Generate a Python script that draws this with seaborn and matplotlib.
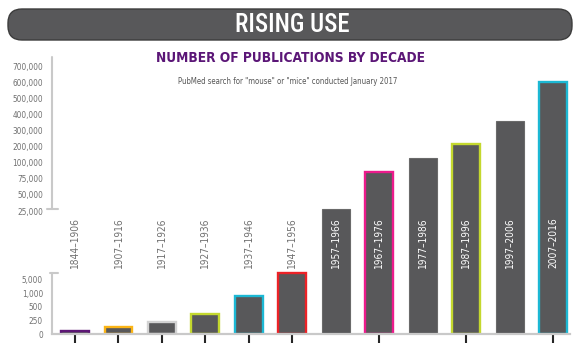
import os
import re
import numpy as np
import pandas as pd
import matplotlib
matplotlib.use("Agg")
import matplotlib.pyplot as plt
import seaborn as sns
from matplotlib.patches import FancyBboxPatch
import matplotlib.transforms as mtransforms
from matplotlib import font_manager as fm

# ---------------- data ----------------
decades = ["1844–1906", "1907–1916", "1917–1926", "1927–1936", "1937–1946", "1947–1956",
           "1957–1966", "1967–1976", "1977–1986", "1987–1996", "1997–2006", "2007–2016"]
publications = [60, 130, 220, 370, 900, 7000,
                28000, 86000, 131000, 219000, 356000, 600000]
edge_colors = ["#5c1674", "#fbb415", "#d2d2d2", "#c4d82e", "#1cb8d4", "#ec2227",
               None, "#ec1b8c", None, "#c4d82e", None, "#1cb8d4"]
lower_ticks = [0, 250, 500, 1000, 5000]
upper_ticks = [25000, 50000, 75000, 100000, 200000, 300000, 400000, 500000, 600000, 700000]

title_banner = "RISING USE"
title = "NUMBER OF PUBLICATIONS BY DECADE"
subtitle = 'PubMed search for "mouse" or "mice" conducted January 2017'

# ---------------- fonts: look for a narrow / condensed sans ----------------
WEIGHTS = {"ultralight": 200, "light": 300, "normal": 400, "regular": 400, "book": 400,
           "medium": 500, "roman": 400, "semibold": 600, "demibold": 600, "demi": 600,
           "bold": 700, "heavy": 800, "extra bold": 800, "black": 900}


def _weight(f):
    if isinstance(f.weight, (int, float)):
        return int(f.weight)
    return WEIGHTS.get(str(f.weight).lower(), 400)


def _cond(f):
    b = os.path.basename(f.fname).lower()
    if "extracondensed" in b or "extra-condensed" in b:
        return 200
    if "semicondensed" in b or "semi-condensed" in b:
        return 400
    if "condensed" in b or "narrow" in b:
        return 300
    return 500


PATTERN = re.compile(r"^(notosans-|liberationsansnarrow|robotocondensed|roboto_condensed|"
                     r"roboto-.*condensed|opensans.*condensed|opensanscondensed|"
                     r"dejavusanscondensed|dejavusans-condensed)")


def pick(target_weight, target_cond):
    best, best_score = None, None
    for f in fm.fontManager.ttflist:
        b = os.path.basename(f.fname).lower()
        if not PATTERN.match(b) or f.style != "normal" or "mono" in b or "italic" in b:
            continue
        c = _cond(f)
        if c >= 500:
            continue
        score = abs(_weight(f) - target_weight) + 2 * abs(c - target_cond)
        if best_score is None or score < best_score:
            best, best_score = f, score
    return best


def props(target_weight, target_cond, size):
    f = pick(target_weight, target_cond)
    if f is None:
        return fm.FontProperties(family="DejaVu Sans",
                                 weight="bold" if target_weight >= 600 else "normal",
                                 size=size)
    return fm.FontProperties(fname=f.fname, size=size)


# ---------------- style ----------------
sns.set_theme(style="white")
plt.rcParams["font.family"] = ["DejaVu Sans"]

BAR_GRAY = "#58585a"
TEXT_GRAY = "#707070"
AXIS_GRAY = "#c9c9c9"
PURPLE = "#5b1677"

fp_tick = props(400, 200, 7)
fp_bar = props(400, 200, 8.5)
fp_banner = props(500, 200, 17)
fp_title = props(700, 200, 12)
fp_sub = props(400, 200, 6.5)

# broken, piecewise axis: equal pixel steps inside each segment
LOWER_STEP, UPPER_START, UPPER_STEP = 13.5, 123.0, 16.1
knot_v = list(lower_ticks) + list(upper_ticks)
knot_h = [LOWER_STEP * i for i in range(len(lower_ticks))] + \
         [UPPER_START + UPPER_STEP * i for i in range(len(upper_ticks))]
knot_v = [-1000.0] + knot_v + [knot_v[-1] + 1e7]
knot_h = [-LOWER_STEP * 4] + knot_h + [knot_h[-1] + UPPER_STEP * 100]
knot_v = np.array(knot_v, float)
knot_h = np.array(knot_h, float)


def fwd(v):
    return np.interp(v, knot_v, knot_h)


def inv(h):
    return np.interp(h, knot_h, knot_v)


W, H = 580, 343
fig = plt.figure(figsize=(W / 100, H / 100), dpi=100)
renderer = fig.canvas.get_renderer()


def fit(fp, sample, target_px, rotation=0):
    """Scale a font size so that `sample` spans target_px pixels."""
    t = fig.text(0, 0, sample, fontproperties=fp, rotation=rotation)
    bb = t.get_window_extent(renderer)
    span = bb.height if rotation else bb.width
    t.remove()
    fp = fp.copy()
    fp.set_size(fp.get_size() * target_px / span)
    return fp


fp_tick = fit(fp_tick, "700,000", 31)
fp_bar = fit(fp_bar, decades[0], 51, rotation=90)
fp_banner = fit(fp_banner, title_banner, 114)
fp_title = fit(fp_title, title, 268)
fp_sub = fit(fp_sub, subtitle, 220)

ax_left, ax_right, ax_bottom, ax_top = 52, 570, 334, 57
ax = fig.add_axes([ax_left / W, (H - ax_bottom) / H,
                   (ax_right - ax_left) / W, (ax_bottom - ax_top) / H])
ax.patch.set_visible(False)

df = pd.DataFrame({"decade": decades, "pubs": publications})
sns.barplot(data=df, x="decade", y="pubs", color=BAR_GRAY, saturation=1,
            width=0.64, ax=ax, zorder=3)
ax.set_yscale("function", functions=(fwd, inv))

top_h = ax_bottom - ax_top
ax.set_ylim(0, inv(top_h))
ax.set_xlim(-0.53, 11.39)

for patch, ec in zip(ax.patches, edge_colors):
    if ec is None:
        patch.set_edgecolor("#6a6a6a")
        patch.set_linewidth(0.8)
    else:
        patch.set_edgecolor(ec)
        patch.set_linewidth(1.7)

for s in ["top", "right", "left"]:
    ax.spines[s].set_visible(False)
ax.spines["bottom"].set_color(AXIS_GRAY)
ax.spines["bottom"].set_linewidth(1.6)
ax.spines["bottom"].set_zorder(4)

# y ticks
yt = list(lower_ticks) + list(upper_ticks)
ax.set_yticks(yt)
ax.set_yticklabels([f"{v:,}" for v in yt])
ax.tick_params(axis="y", length=0, pad=6.5, labelcolor=TEXT_GRAY)
for lab in ax.get_yticklabels():
    lab.set_fontproperties(fp_tick)
ax.set_ylabel("")
ax.set_xlabel("")

# x ticks: coloured stubs below bars
ax.set_xticks(range(len(decades)))
ax.set_xticklabels([""] * len(decades))
ax.tick_params(axis="x", length=7, width=1.5, direction="out", bottom=True)
for tick, ec in zip(ax.xaxis.get_major_ticks(), edge_colors):
    if ec is None:
        tick.tick1line.set_visible(False)
    else:
        tick.tick1line.set_color(ec)

# broken left axis drawn as two pieces
trans_y = mtransforms.blended_transform_factory(ax.transAxes, ax.transData)
px = 1.0 / (ax_right - ax_left)
lower_top = inv(61)
upper_bot = inv(125)
ax.plot([0, 0], [0, lower_top], transform=trans_y, color=AXIS_GRAY, lw=1.5,
        clip_on=False, zorder=2)
ax.plot([-2 * px, 6 * px], [lower_top, lower_top], transform=trans_y,
        color=AXIS_GRAY, lw=1.5, clip_on=False, zorder=2)
ax.plot([0, 0], [upper_bot, inv(top_h)], transform=trans_y, color=AXIS_GRAY,
        lw=1.5, clip_on=False, zorder=2)
ax.plot([-5 * px, 6 * px], [upper_bot, upper_bot], transform=trans_y,
        color=AXIS_GRAY, lw=1.5, clip_on=False, zorder=2)

# decade labels
trans_x = mtransforms.blended_transform_factory(ax.transData, ax.transAxes)
label_y = 91 / top_h
for i, (d, v) in enumerate(zip(decades, publications)):
    inside = v > 20000
    ax.text(i, label_y, d, transform=trans_x, rotation=90, ha="center",
            va="center", fontproperties=fp_bar,
            color="white" if inside else TEXT_GRAY, zorder=5)

# ---------------- header ----------------
hdr = fig.add_axes([0, 0, 1, 1], zorder=-1)
hdr.set_xlim(0, W)
hdr.set_ylim(H, 0)
hdr.axis("off")
hdr.add_patch(FancyBboxPatch((8, 9), 564, 31,
                             boxstyle="round,pad=0,rounding_size=14",
                             facecolor=BAR_GRAY, edgecolor="#3c3c3c", lw=1.0))
hdr.text(292, 25, title_banner, ha="center", va="center", color="white",
         fontproperties=fp_banner)
hdr.text(290, 58, title, ha="center", va="center", color=PURPLE,
         fontproperties=fp_title)
hdr.text(288, 81, subtitle, ha="center", va="center", color="#555555",
         fontproperties=fp_sub)

fig.savefig("out.png", dpi=100)
